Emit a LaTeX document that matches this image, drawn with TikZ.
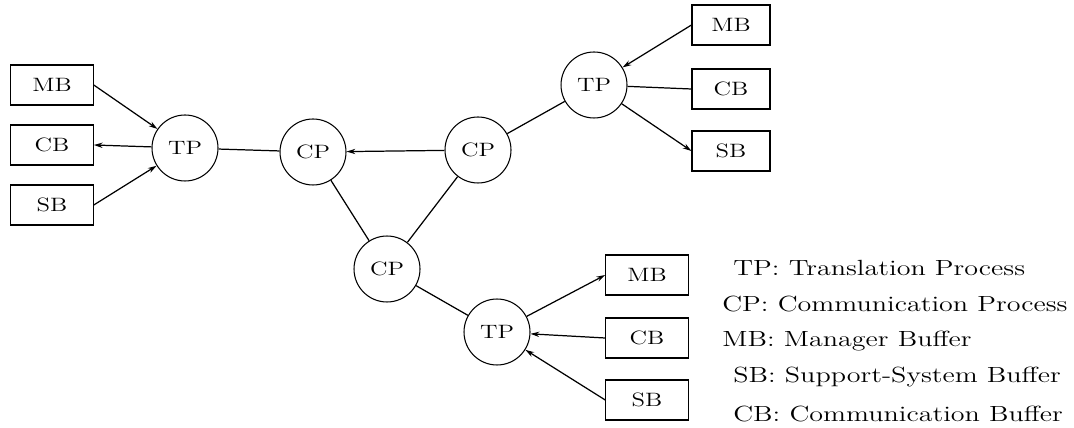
\documentclass[tikz,border=0pt]{standalone}
\usepackage{graphicx}
\usetikzlibrary{arrows.meta,positioning}
\newcommand{\widetext}[1]{\scalebox{1.28}[1]{#1}}

\begin{document}
\begin{tikzpicture}[x=0.02cm,y=-0.02cm,>={Stealth[length=5pt,width=3pt]}]
\tikzset{proc/.style={draw,circle,minimum size=1.32cm,inner sep=0pt,line width=0.6pt,
    font=\fontsize{11}{13}\selectfont},
  buf/.style={draw,rectangle,minimum width=1.65cm,minimum height=0.8cm,inner sep=0pt,line width=0.6pt,
    font=\fontsize{11}{13}\selectfont},
  link/.style={line width=0.7pt},
  legend/.style={anchor=west,font=\fontsize{12.5}{15}\selectfont,inner sep=0pt}}
\useasboundingbox (0,0) rectangle (1074,428);
% processes
\node[proc] (TPl) at (185,148) {\widetext{TP}};
\node[proc] (CPa) at (313,152) {\widetext{CP}};
\node[proc] (CPb) at (478,150) {\widetext{CP}};
\node[proc] (CPc) at (387,269) {\widetext{CP}};
\node[proc] (TPt) at (594,85) {\widetext{TP}};
\node[proc] (TPb) at (497,332) {\widetext{TP}};
% buffers, left
\node[buf] (MBl) at (52,85) {\widetext{MB}};
\node[buf] (CBl) at (52,145) {\widetext{CB}};
\node[buf] (SBl) at (52,205) {\widetext{SB}};
% buffers, top right
\node[buf,minimum width=1.56cm] (MBt) at (731,25) {\widetext{MB}};
\node[buf,minimum width=1.56cm] (CBt) at (731,89) {\widetext{CB}};
\node[buf,minimum width=1.56cm] (SBt) at (731,151) {\widetext{SB}};
% buffers, bottom
\node[buf] (MBb) at (647,275) {\widetext{MB}};
\node[buf] (CBb) at (647,338) {\widetext{CB}};
\node[buf] (SBb) at (647,400) {\widetext{SB}};
% connections
\draw[link,->] (MBl.east) -- (TPl);
\draw[link,->] (TPl) -- (CBl.east);
\draw[link,->] (SBl.east) -- (TPl);
\draw[link] (TPl) -- (CPa);
\draw[link,->] (CPb) -- (CPa);
\draw[link] (CPa) -- (CPc);
\draw[link] (CPb) -- (CPc);
\draw[link] (CPb) -- (TPt);
\draw[link] (CPc) -- (TPb);
\draw[link,->] (MBt.west) -- (TPt);
\draw[link] (TPt) -- (CBt.west);
\draw[link,->] (TPt) -- (SBt.west);
\draw[link,->] (TPb) -- (MBb.west);
\draw[link,->] (CBb.west) -- (TPb);
\draw[link,->] (SBb.west) -- (TPb);
% legend
\node[legend] (lgTP) at (733,268) {\widetext{TP: Translation Process}};
\node[legend] (lgCP) at (722,304) {\widetext{CP: Communication Process}};
\node[legend] (lgMB) at (722,341) {\widetext{MB: Manager Buffer}};
\node[legend] (lgSB) at (733,377) {\widetext{SB: Support-System Buffer}};
\node[legend] (lgCB) at (733,414) {\widetext{CB: Communication Buffer}};
\end{tikzpicture}
\end{document}
